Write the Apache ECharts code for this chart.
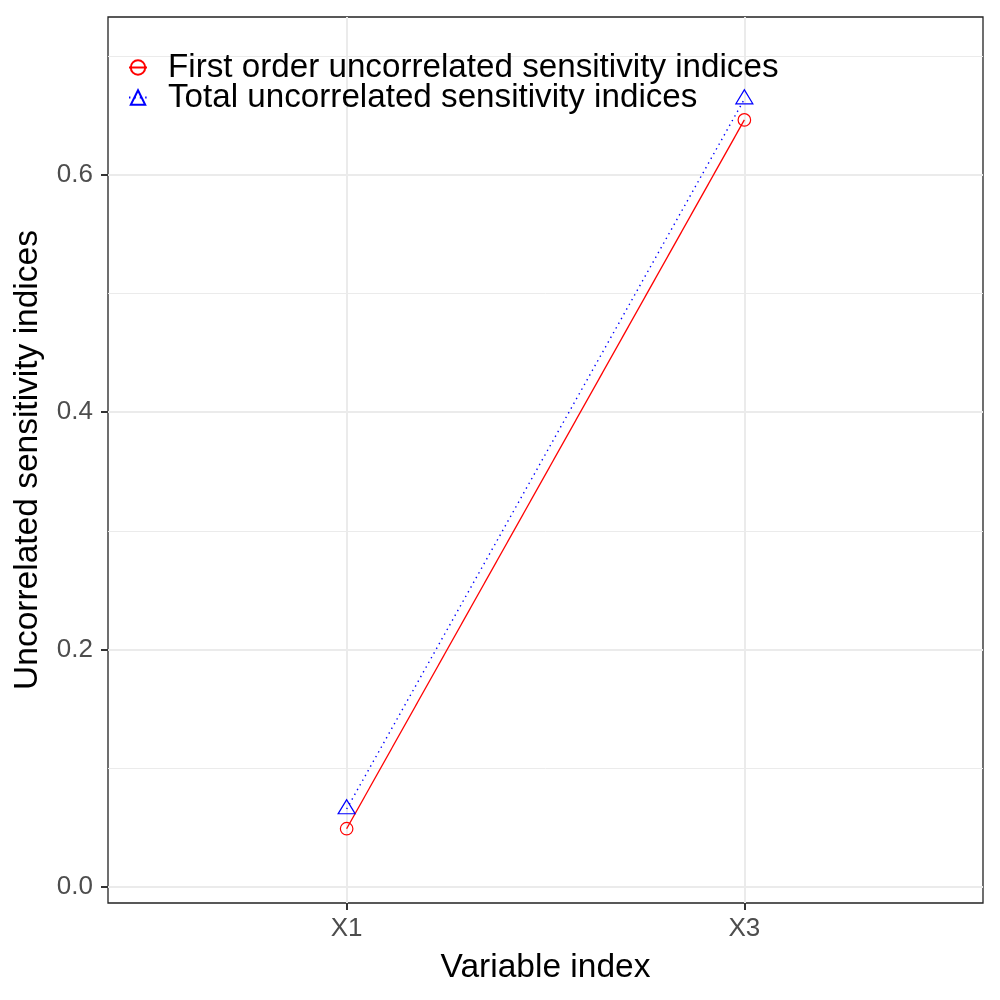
<!DOCTYPE html>
<html>
<head>
<meta charset="utf-8">
<script src="https://cdn.jsdelivr.net/npm/echarts@6/dist/echarts.min.js"></script>
<style>html,body{margin:0;padding:0;background:#fff}#c{width:1000px;height:1000px}</style>
</head>
<body>
<div id="c"></div>
<script>
var categories = ['X1', 'X3'];
var firstOrder = [0.0491, 0.6463];
var totalIdx = [0.0657, 0.6638];
var yMajorTicks = [0, 0.2, 0.4, 0.6];
var yMinorTicks = [0.1, 0.3, 0.5, 0.7];
var seriesNames = ['First order uncorrelated sensitivity indices', 'Total uncorrelated sensitivity indices'];

var font = '"Liberation Sans", Arial, Helvetica, sans-serif';
var xPos = categories.map(function (c, i) { return i + 1; });
function pairs(vals) { return vals.map(function (v, i) { return [xPos[i], v]; }); }

var chart = echarts.init(document.getElementById('c'), null, {renderer: 'canvas'});
chart.setOption({
  backgroundColor: '#ffffff',
  animation: false,
  grid: {left: 108, right: 17, top: 17, bottom: 97, show: true, borderColor: '#222222', borderWidth: 1.3, backgroundColor: 'transparent'},
  legend: [
    {data: [seriesNames[0]], left: 128, top: 51, orient: 'vertical', padding: 0, itemWidth: 18, itemHeight: 18,
     textStyle: {fontFamily: font, fontSize: 33.2, color: '#000', lineHeight: 33, padding: [0, 0, 0, 16]}},
    {data: [seriesNames[1]], left: 128, top: 81, orient: 'vertical', padding: 0, itemWidth: 18, itemHeight: 18,
     textStyle: {fontFamily: font, fontSize: 33.2, color: '#000', lineHeight: 33, padding: [0, 0, 0, 16]}}
  ],
  xAxis: {
    type: 'value', min: 0.4, max: 2.6,
    name: 'Variable index', nameLocation: 'middle', nameGap: 48,
    nameTextStyle: {fontFamily: font, fontSize: 33.5, color: '#000'},
    axisLine: {show: false, onZero: false},
    axisTick: {show: true, customValues: xPos, length: 7, lineStyle: {color: '#333', width: 2}},
    axisLabel: {customValues: xPos, margin: 13, fontFamily: font, fontSize: 26, color: '#4d4d4d',
      formatter: function (v) { return categories[Math.round(v) - 1] || ''; }},
    splitLine: {show: true, lineStyle: {color: '#ebebeb', width: 2}}
  },
  yAxis: [
    {
      type: 'value', min: -0.01348, max: 0.733,
      name: 'Uncorrelated sensitivity indices', nameLocation: 'middle', nameGap: 63,
      nameTextStyle: {fontFamily: font, fontSize: 33.5, color: '#000'},
      axisLine: {show: false, onZero: false},
      axisTick: {show: true, customValues: yMajorTicks, length: 7, lineStyle: {color: '#333', width: 2}},
      axisLabel: {customValues: yMajorTicks, margin: 15, fontFamily: font, fontSize: 26, color: '#4d4d4d',
        formatter: function (v) { return v.toFixed(1); }},
      splitLine: {show: true, lineStyle: {color: '#ebebeb', width: 2}}
    },
    {
      type: 'value', min: -0.01348, max: 0.733, position: 'left',
      axisLine: {show: false, onZero: false},
      axisTick: {show: false, customValues: yMinorTicks},
      axisLabel: {show: false, customValues: yMinorTicks},
      splitLine: {show: true, lineStyle: {color: '#ebebeb', width: 1}}
    }
  ],
  series: [
    {
      name: seriesNames[0], type: 'line', data: pairs(firstOrder), z: 3,
      symbol: 'circle', symbolSize: 12.5,
      itemStyle: {color: 'rgba(255,0,0,0)', borderColor: '#ff0000', borderWidth: 1.2},
      lineStyle: {color: '#ff0000', width: 1.3, type: 'solid'}
    },
    {
      name: seriesNames[1], type: 'line', data: pairs(totalIdx), z: 3,
      symbol: 'triangle', symbolSize: [17, 14], symbolOffset: [0, -2.3],
      itemStyle: {color: 'rgba(0,0,255,0)', borderColor: '#0000ff', borderWidth: 1.2},
      lineStyle: {color: '#0000ff', width: 1.4, type: [1.4, 4]}
    }
  ]
});
</script>
</body>
</html>
